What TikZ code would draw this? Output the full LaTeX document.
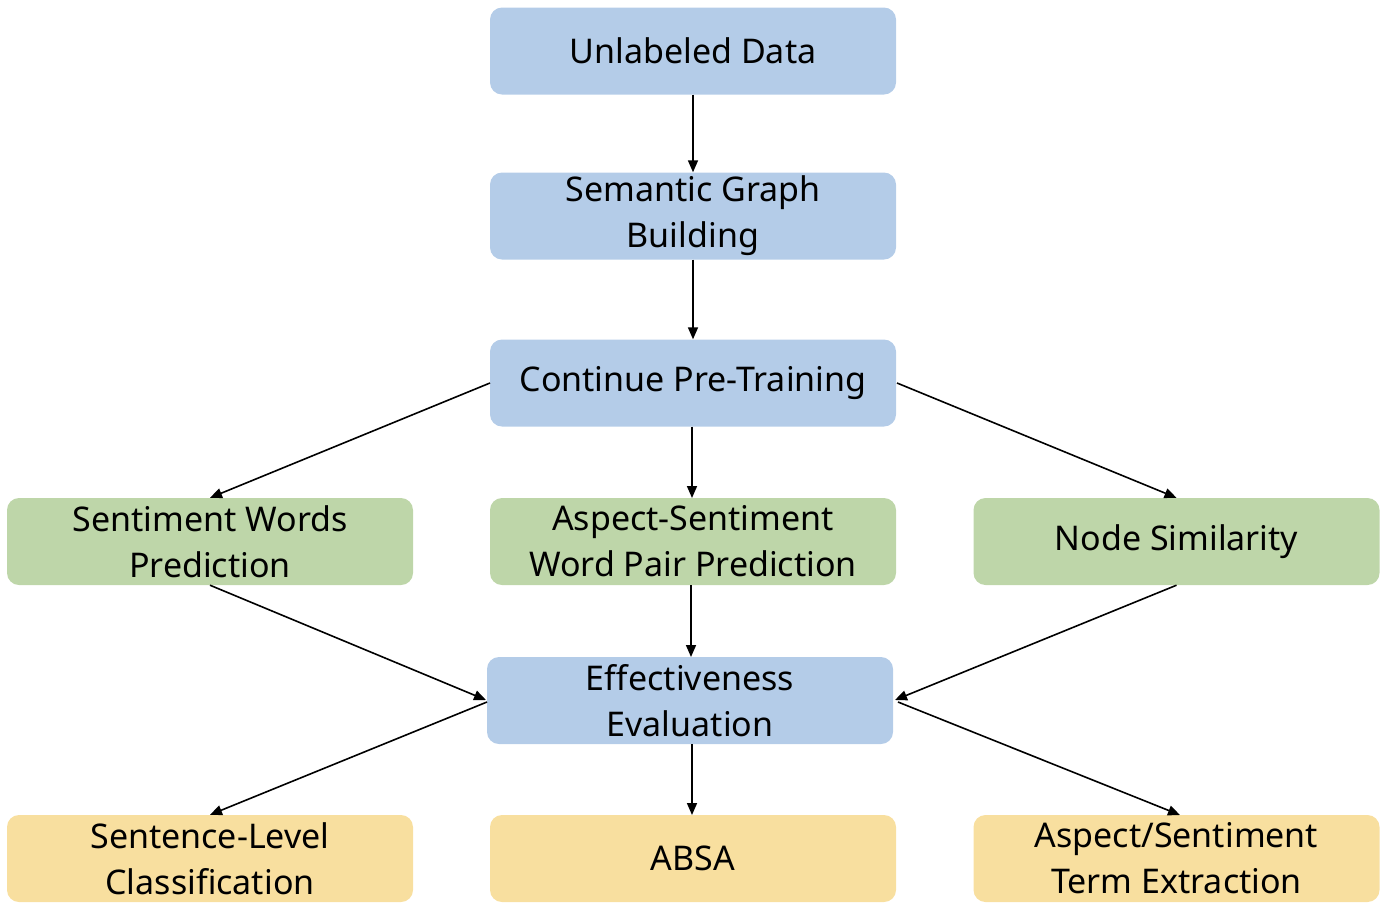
\documentclass[tikz,border=0pt]{standalone}
\usepackage{fontspec}
\setmainfont{Noto Sans}
\usetikzlibrary{arrows.meta}
\definecolor{bluebox}{HTML}{B4CCE8}
\definecolor{greenbox}{HTML}{BED6A9}
\definecolor{yellowbox}{HTML}{F8DF9F}
\tikzset{
  box/.style={rounded corners=12pt, minimum width=406pt, minimum height=87pt, inner sep=0pt, align=center,
    font=\fontsize{34}{46}\selectfont, text=black},
  bbox/.style={box, fill=bluebox},
  gbox/.style={box, fill=greenbox},
  ybox/.style={box, fill=yellowbox},
  arr/.style={-{Triangle[length=12pt,width=10pt]}, line width=1.6pt, black},
}
\begin{document}
\begin{tikzpicture}[x=1pt,y=-1pt]
\useasboundingbox (0,0) rectangle (1390,906);
\node[bbox] (ud) at (693,51) {Unlabeled Data};
\node[bbox] (sg) at (693,216) {Semantic Graph\\Building};
\node[bbox] (cp) at (693,383) {Continue Pre-Training};
\node[gbox] (sw) at (210,541.5) {Sentiment Words\\Prediction};
\node[gbox] (as) at (693,541.5) {Aspect-Sentiment\\Word Pair Prediction};
\node[gbox] (ns) at (1176.5,541.5) {Node Similarity};
\node[bbox] (ee) at (690,700.5) {Effectiveness\\Evaluation};
\node[ybox] (sl) at (210,858.5) {Sentence-Level\\Classification};
\node[ybox] (ab) at (693,858.5) {ABSA};
\node[ybox] (at) at (1176.5,858.5) {Aspect/Sentiment\\Term Extraction};

\coordinate (cpW) at (490,383);
\coordinate (cpE) at (897,383);
\coordinate (eeW) at (487,702);
\coordinate (eeE) at (898,702);
\coordinate (eeWin) at (486,700);
\coordinate (eeEin) at (895,700);

\draw[arr] (ud.south) -- (sg.north);
\draw[arr] (sg.south) -- (cp.north);
\draw[arr] (cpW) -- (sw.north);
\draw[arr] (692,426.5) -- (692,498);
\draw[arr] (cpE) -- (ns.north);
\draw[arr] (sw.south) -- (eeWin);
\draw[arr] (691,585) -- (691,657);
\draw[arr] (ns.south) -- (eeEin);
\draw[arr] (eeW) -- (sl.north);
\draw[arr] (692,744) -- (692,815);
\draw[arr] (eeE) -- (1180,815);
\end{tikzpicture}
\end{document}
